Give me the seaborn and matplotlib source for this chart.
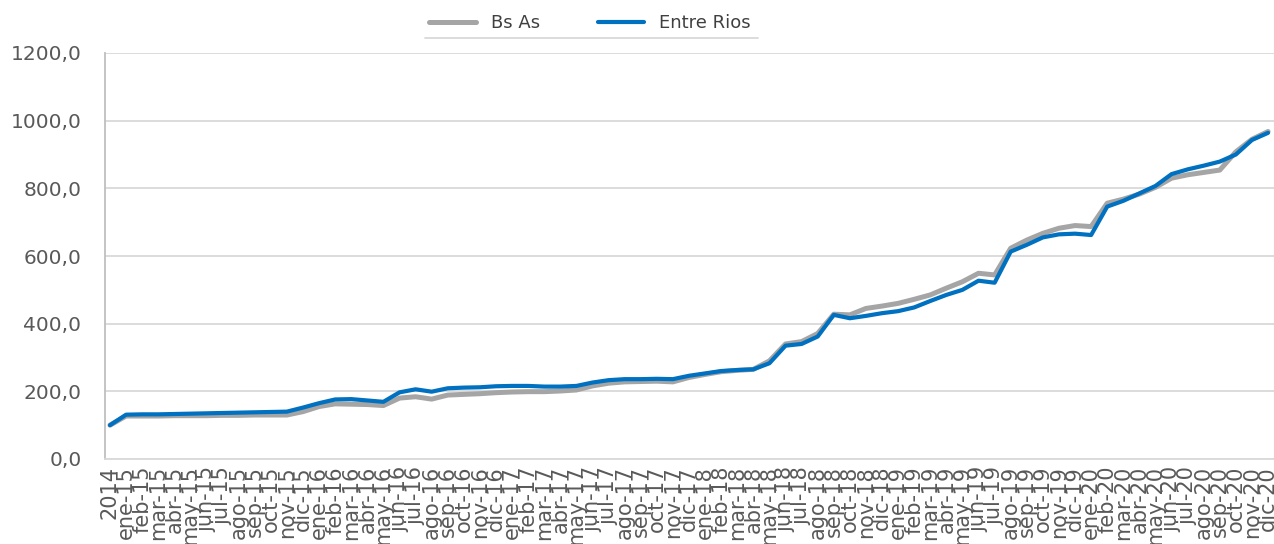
import matplotlib
matplotlib.use('Agg')
import matplotlib.pyplot as plt
import seaborn as sns
import pandas as pd
from matplotlib.ticker import FuncFormatter

# meses y etiquetas del eje x
meses = ['ene', 'feb', 'mar', 'abr', 'may', 'jun', 'jul', 'ago', 'sep', 'oct', 'nov', 'dic']
anios = ['15', '16', '17', '18', '19', '20']
etiquetas = ['2014'] + [m + '-' + a for a in anios for m in meses]

# valores
bs_as = [100, 127, 127, 127, 128, 128, 128, 129, 129, 130, 130, 130,
         140, 155, 163, 162, 161, 158, 180, 184, 177, 189, 191, 193,
         196, 198, 199, 199, 201, 204, 216, 224, 228, 229, 230, 228,
         241, 250, 258, 262, 265, 290, 340, 347, 371, 428, 426, 445,
         452, 460, 472, 485, 505, 524, 549, 544, 623, 647, 667, 682,
         690, 687, 756, 768, 783, 803, 830, 840, 847, 854, 908, 945,
         968]
entre_rios = [100, 131, 132, 132, 133, 134, 135, 136, 137, 138, 139, 140,
              152, 165, 176, 177, 173, 169, 197, 206, 199, 209, 211, 212,
              215, 216, 216, 214, 214, 216, 226, 233, 236, 236, 237, 236,
              246, 253, 260, 263, 265, 283, 335, 340, 362, 426, 416, 423,
              431, 437, 448, 467, 485, 500, 527, 521, 613, 633, 655, 664,
              666, 662, 746, 763, 785, 807, 842, 856, 867, 879, 900, 943,
              964]

df = pd.DataFrame({'x': list(range(len(etiquetas))) * 2,
                   'valor': bs_as + entre_rios,
                   'serie': ['Bs As'] * len(bs_as) + ['Entre Rios'] * len(entre_rios)})

sns.set_style('white')
plt.rcParams['font.family'] = ['DejaVu Sans']

fig = plt.figure(figsize=(12.74, 5.44), dpi=100)
ax = fig.add_axes([105 / 1274, 85 / 544, 1169 / 1274, 406 / 544])

sns.lineplot(data=df, x='x', y='valor', hue='serie',
             palette={'Bs As': '#A5A5A5', 'Entre Rios': '#0070C0'},
             ax=ax, legend=False, sort=False)
for ln, lw in zip(ax.lines, [3.6, 3.0]):
    ln.set_linewidth(lw)
    ln.set_solid_joinstyle('round')
    ln.set_solid_capstyle('round')

ax.set_xlim(-0.31, 72.37)
ax.set_ylim(0, 1200)
ax.set_yticks(range(0, 1201, 200))
ax.yaxis.set_major_formatter(FuncFormatter(lambda v, p: f'{v:.1f}'.replace('.', ',')))
ax.set_xticks(range(len(etiquetas)))
ax.set_xticklabels(etiquetas, rotation=90, va='top', ha='center')
ax.set_xlabel('')
ax.set_ylabel('')

ax.grid(axis='y', color='#D9D9D9', linewidth=1.3)
ax.set_axisbelow(True)
for s in ['top', 'right']:
    ax.spines[s].set_visible(False)
ax.spines['left'].set_color('#BFBFBF')
ax.spines['bottom'].set_color('#D9D9D9')
ax.spines['left'].set_linewidth(1.3)
ax.spines['bottom'].set_linewidth(1.3)
ax.tick_params(axis='y', length=6, color='#BFBFBF', labelsize=14.5, labelcolor='#595959', pad=11)
ax.tick_params(axis='x', length=0, labelsize=15, labelcolor='#595959', pad=5)

# leyenda arriba
handles = [plt.Line2D([], [], color='#A5A5A5', lw=3.6),
           plt.Line2D([], [], color='#0070C0', lw=3.0)]
fig.legend(handles, ['Bs As', 'Entre Rios'], loc='center', bbox_to_anchor=(0.463, 0.958),
           ncol=2, frameon=False, fontsize=13, handlelength=2.6, columnspacing=3.2,
           labelcolor='#404040')
fig.add_artist(plt.Line2D([425 / 1274, 758 / 1274], [1 - 38 / 544, 1 - 38 / 544],
                          color='#D9D9D9', lw=1.3))

fig.savefig('out.png', dpi=100)
